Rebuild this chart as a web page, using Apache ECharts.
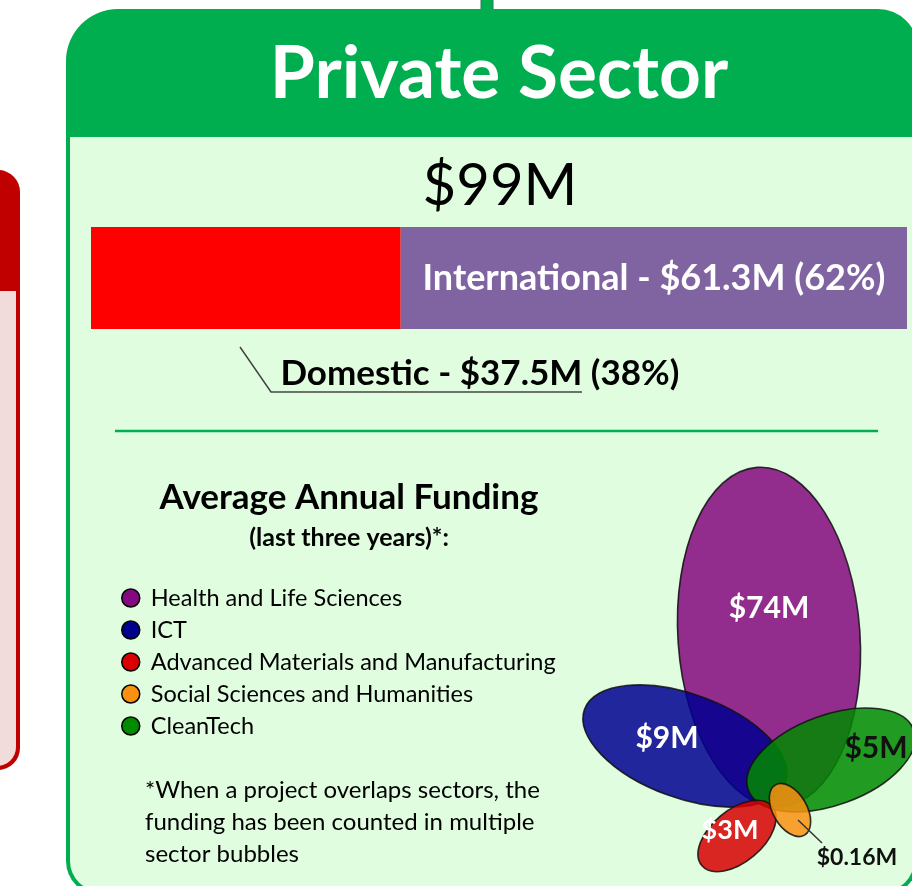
<!DOCTYPE html>
<html>
<head>
<meta charset="utf-8">
<title>Private Sector</title>
<script src="https://cdn.jsdelivr.net/npm/echarts@6/dist/echarts.min.js"></script>
<style>
    html, body { margin: 0; padding: 0; background: #fff; }
    #chart { width: 912px; height: 886px; }
</style>
</head>
<body>
<div id="chart"></div>
<script>
// domestic / international split, $M
var splitNames = ['Domestic', 'International'];
var splitValues = [37.5, 61.3];

// average annual funding by sector, last three years, $M
var sectors = ['Health and Life Sciences', 'ICT', 'Advanced Materials and Manufacturing',
    'Social Sciences and Humanities', 'CleanTech'];
var sectorFunding = [74, 9, 3, 0.16, 5];
var sectorColors = ['#84087f', '#00008f', '#d80000', '#fa9010', '#008a00'];

// venn-style bubble layout (not to scale), in the bubble grid's units
// cx, cy, rx, ry, tilt (deg, ccw), label dx, dy
var bubbleLayout = [
    { cx: 209, cy: 177, rx: 91, ry: 170, tilt: 4, lx: 0, ly: -29, color: '#fff', size: 30 },
    { cx: 125, cy: 286, rx: 107, ry: 52, tilt: -20, lx: -18, ly: -8, color: '#fff', size: 30 },
    { cx: 177, cy: 376, rx: 46, ry: 26, tilt: 40, lx: -7, ly: -6, color: '#fff', size: 27 },
    { cx: 230, cy: 350, rx: 29, ry: 17, tilt: -60, lx: 67, ly: 48, color: '#111', size: 23, leader: true },
    { cx: 271, cy: 300, rx: 88, ry: 45, tilt: 20, lx: 45, ly: -12, color: '#111', size: 30 }
];
// order the bubbles are painted in
var paintOrder = [0, 1, 4, 2, 3];

var FONT = 'Lato, "Open Sans", sans-serif';

var total = splitValues[0] + splitValues[1];
function pct(v) { return Math.round(v / total * 100); }

var chart = echarts.init(document.getElementById('chart'));

function bubbleRenderer(i) {
    return function (params, api) {
        var L = bubbleLayout[i];
        var c = api.coord([L.cx, L.cy]);
        var s = api.size([L.rx, L.ry]);
        var lp = api.coord([L.cx + L.lx, L.cy + L.ly]);
        var children = [{
            type: 'ellipse',
            x: c[0], y: c[1],
            rotation: L.tilt * Math.PI / 180,
            shape: { cx: 0, cy: 0, rx: s[0], ry: s[1] },
            style: { fill: sectorColors[i], stroke: '#111', lineWidth: 1.6, opacity: 0.85 }
        }];
        if (L.leader) {
            children.push({
                type: 'line',
                shape: { x1: c[0] + 8, y1: c[1] + 10, x2: lp[0] - 35, y2: lp[1] - 15 },
                style: { stroke: '#333', lineWidth: 1.5 }
            });
        }
        children.push({
            type: 'text',
            x: lp[0], y: lp[1],
            style: {
                text: '$' + sectorFunding[i] + 'M',
                fill: L.color,
                fontSize: L.size, fontWeight: 'bold', fontFamily: FONT,
                align: 'center', verticalAlign: 'middle'
            }
        });
        return { type: 'group', children: children };
    };
}

var series = [
    {
        name: splitNames[0],
        type: 'bar',
        stack: 'split',
        xAxisIndex: 0, yAxisIndex: 0,
        barWidth: '100%',
        data: [splitValues[0]],
        itemStyle: { color: '#ff0000' },
        label: {
            show: true,
            position: 'bottom',
            distance: 27,
            offset: [234, 0],
            formatter: function (p) {
                return '{a|' + p.seriesName + ' - $' + p.value + 'M (' + pct(p.value) + '%)}';
            },
            rich: { a: { fontSize: 35, fontWeight: 'bold', color: '#000', fontFamily: FONT } }
        }
    },
    {
        name: splitNames[1],
        type: 'bar',
        stack: 'split',
        xAxisIndex: 0, yAxisIndex: 0,
        barWidth: '100%',
        data: [splitValues[1]],
        itemStyle: { color: '#8064a2' },
        label: {
            show: true,
            position: 'inside',
            color: '#fff',
            fontSize: 36, fontWeight: 'bold', fontFamily: FONT,
            formatter: function (p) {
                return p.seriesName + ' - $' + p.value + 'M (' + pct(p.value) + '%)';
            }
        }
    }
];

paintOrder.forEach(function (i) {
    series.push({
        name: sectors[i],
        type: 'custom',
        xAxisIndex: 1, yAxisIndex: 1,
        itemStyle: { color: sectorColors[i] },
        data: [[bubbleLayout[i].cx, bubbleLayout[i].cy]],
        renderItem: bubbleRenderer(i)
    });
});

var option = {
    animation: false,
    backgroundColor: '#fff',
    grid: [
        { left: 91, top: 227, width: 816, height: 102 },
        { left: 560, top: 460, width: 352, height: 426 }
    ],
    xAxis: [
        { type: 'value', gridIndex: 0, min: 0, max: total, show: false },
        { type: 'value', gridIndex: 1, min: 0, max: 352, show: false }
    ],
    yAxis: [
        { type: 'category', gridIndex: 0, data: ['Private Sector'], show: false },
        { type: 'value', gridIndex: 1, min: 0, max: 426, inverse: true, show: false }
    ],
    legend: {
        data: sectors,
        orient: 'vertical',
        left: 116, top: 581,
        itemWidth: 18, itemHeight: 18,
        itemGap: 8,
        icon: 'circle',
        selectedMode: false,
        itemStyle: { borderColor: '#000', borderWidth: 1.5 },
        textStyle: { fontSize: 23.5, color: '#000', fontFamily: FONT, padding: [0, 0, 0, 6] }
    },
    graphic: [
        // neighbouring (cut off) panel on the left
        { type: 'rect', z: 0, shape: { x: -40, y: 170, width: 60, height: 600, r: [0, 22, 22, 0] }, style: { fill: '#c00000' } },
        { type: 'rect', z: 0, shape: { x: -40, y: 291, width: 56, height: 475, r: [0, 0, 19, 0] }, style: { fill: '#f2dcdb' } },
        // connector stem on top
        { type: 'rect', z: 0, shape: { x: 481, y: -4, width: 12, height: 16 }, style: { fill: '#00ae50', stroke: '#2b7a55', lineWidth: 1 } },
        // main panel
        { type: 'rect', z: 0, shape: { x: 66, y: 9, width: 852, height: 886, r: [52, 40, 34, 34] }, style: { fill: '#00ae50' } },
        { type: 'rect', z: 0, shape: { x: 70, y: 137, width: 844, height: 754, r: [0, 0, 30, 30] }, style: { fill: '#e0fde0' } },
        {
            type: 'text', z: 1, x: 499, y: 74,
            style: { text: 'Private Sector', fill: '#fff', fontSize: 73, fontWeight: 'bold', fontFamily: FONT, align: 'center', verticalAlign: 'middle' }
        },
        {
            type: 'text', z: 1, x: 500, y: 186,
            style: { text: '$' + Math.round(total) + 'M', fill: '#000', fontSize: 58, fontFamily: FONT, align: 'center', verticalAlign: 'middle' }
        },
        // leader under the domestic label
        { type: 'polyline', z: 1, shape: { points: [[240, 347], [271, 392], [582, 392]] }, style: { stroke: '#444', lineWidth: 1.5, fill: null } },
        { type: 'line', z: 1, shape: { x1: 115, y1: 431, x2: 878, y2: 431 }, style: { stroke: '#00b050', lineWidth: 2.5 } },
        {
            type: 'text', z: 1, x: 349, y: 498,
            style: { text: 'Average Annual Funding', fill: '#000', fontSize: 35, fontWeight: 'bold', fontFamily: FONT, align: 'center', verticalAlign: 'middle' }
        },
        {
            type: 'text', z: 1, x: 349, y: 538,
            style: { text: '(last three years)*:', fill: '#000', fontSize: 25, fontWeight: 'bold', fontFamily: FONT, align: 'center', verticalAlign: 'middle' }
        },
        {
            type: 'text', z: 1, x: 145, y: 774,
            style: {
                text: '*When a project overlaps sectors, the\nfunding has been counted in multiple\nsector bubbles',
                fill: '#000', fontSize: 24, lineHeight: 32, fontFamily: FONT, align: 'left', verticalAlign: 'top'
            }
        }
    ],
    series: series
};

chart.setOption(option);
</script>
</body>
</html>
